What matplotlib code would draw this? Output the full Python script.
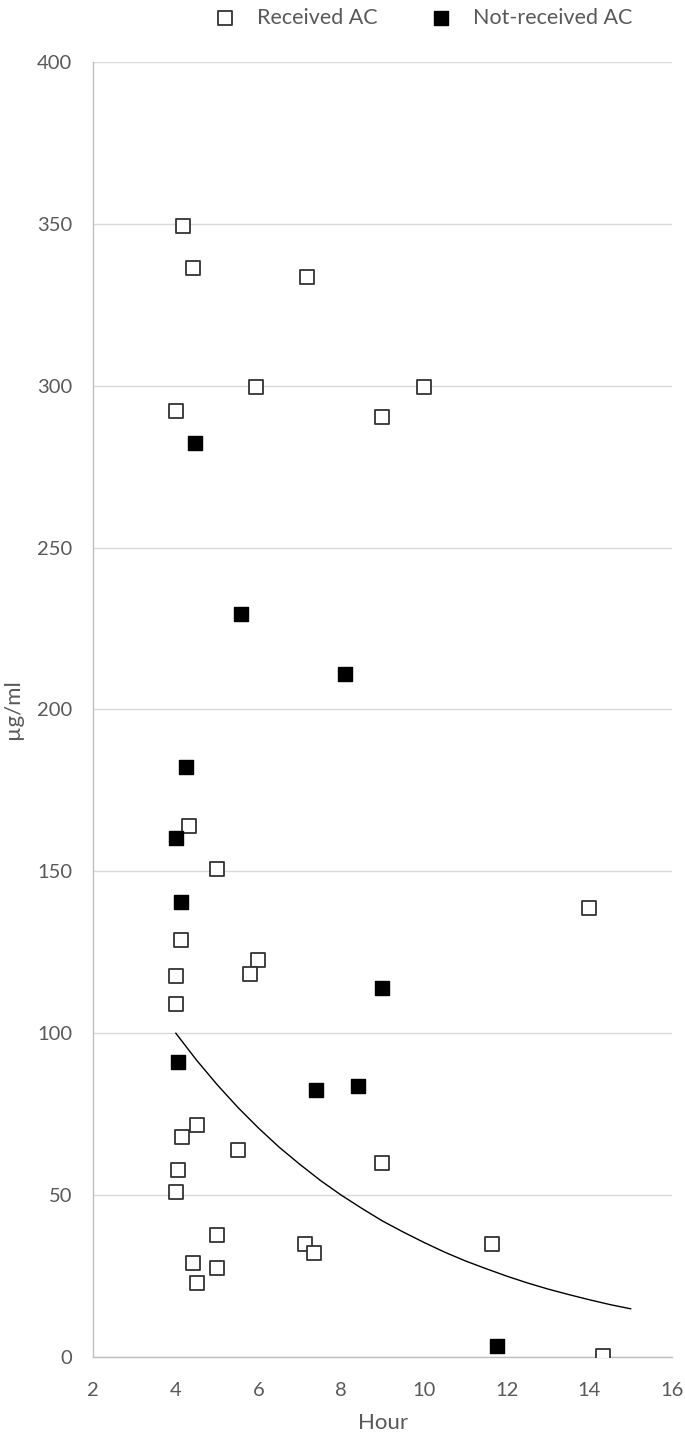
import matplotlib.pyplot as plt

plt.rcParams['font.family'] = ['Lato', 'DejaVu Sans']

# Received AC (hollow squares)
recv_hour = [4.18, 4.42, 7.17, 5.94, 10.0, 4.0, 8.99, 4.32, 5.0, 13.99, 4.13, 5.99,
             5.8, 4.0, 4.0, 4.51, 4.15, 5.5, 8.99, 4.05, 4.0, 5.0, 7.13, 11.65,
             7.34, 4.42, 5.0, 4.51, 14.33]
recv_conc = [349.3, 336.4, 333.6, 299.6, 299.6, 292.2, 290.3, 164.0, 150.7, 138.7, 128.8, 122.6,
             118.3, 117.7, 109.0, 71.7, 68.0, 63.9, 59.9, 57.8, 51.0, 37.7, 34.9, 34.9,
             32.1, 29.0, 27.5, 22.9, 0.3]

# Not-received AC (filled squares)
notrecv_hour = [4.47, 5.58, 8.09, 4.25, 4.0, 4.13, 8.99, 4.05, 7.39, 8.41, 11.77]
notrecv_conc = [282.3, 229.5, 211.0, 182.2, 160.3, 140.5, 114.0, 91.1, 82.5, 83.7, 3.4]

# treatment line
line_hour = [4, 4.5, 5, 5.5, 6, 6.5, 7, 7.5, 8, 8.5, 9, 9.5, 10, 10.5, 11,
             11.5, 12, 12.5, 13, 13.5, 14, 14.5, 15]
line_conc = [100, 91.7, 84.1, 77.1, 70.7, 64.8, 59.5, 54.5, 50, 45.9, 42, 38.6, 35.4,
             32.4, 29.7, 27.3, 25, 22.9, 21, 19.3, 17.7, 16.2, 14.9]

grey = '#595959'

fig = plt.figure(figsize=(6.85, 14.38), dpi=100)
ax = fig.add_axes([0.136, 0.0563, 0.845, 0.9007])

ax.plot(line_hour, line_conc, color='black', linewidth=1.0, zorder=2)
ax.scatter(recv_hour, recv_conc, marker='s', s=105, facecolors='white',
           edgecolors='#333333', linewidths=1.3, zorder=3, label='Received AC')
ax.scatter(notrecv_hour, notrecv_conc, marker='s', s=105, facecolors='black',
           edgecolors='black', linewidths=1.0, zorder=3, label='Not-received AC')

ax.set_xlim(2, 16)
ax.set_ylim(0, 400)
ax.set_xticks(range(2, 17, 2))
ax.set_yticks(range(0, 401, 50))
ax.grid(axis='y', color='#d9d9d9', linewidth=1.0)
ax.set_axisbelow(True)

for side in ['top', 'right']:
    ax.spines[side].set_visible(False)
for side in ['left', 'bottom']:
    ax.spines[side].set_color('#bfbfbf')
    ax.spines[side].set_linewidth(1.0)

ax.tick_params(length=0, labelsize=14.5, colors=grey)
ax.tick_params(axis='y', pad=15)
ax.tick_params(axis='x', pad=18)
ax.set_xlabel('Hour', fontsize=16, color=grey, labelpad=10)
ax.set_ylabel('µg/ml', fontsize=16, color=grey, labelpad=10)

fig.legend(loc='upper center', bbox_to_anchor=(0.618, 1.008), ncol=2, frameon=False,
           fontsize=15.5, labelcolor=grey, columnspacing=2.4, handletextpad=1.0,
           handlelength=1.0, markerscale=1.0)

fig.savefig('out.png', dpi=100)
